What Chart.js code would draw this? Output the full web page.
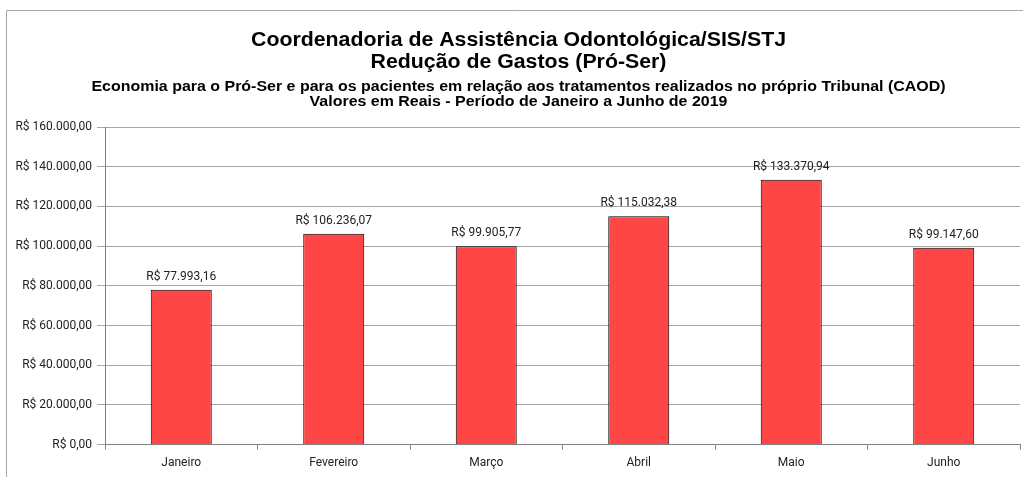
<!DOCTYPE html>
<html>
<head>
<meta charset="utf-8">
<script src="https://cdn.jsdelivr.net/npm/chart.js@4.4.1/dist/chart.umd.min.js"></script>
<style>
  html, body { margin: 0; padding: 0; background: #fff; }
  #wrap { position: relative; width: 1023px; height: 477px; }
</style>
</head>
<body>
<div id="wrap"><canvas id="chart" width="1023" height="477"></canvas></div>
<script>
const months = ['Janeiro', 'Fevereiro', 'Março', 'Abril', 'Maio', 'Junho'];
const economia = [77993.16, 106236.07, 99905.77, 115032.38, 133370.94, 99147.60];
const titleLines = ['Coordenadoria de Assistência Odontológica/SIS/STJ', 'Redução de Gastos (Pró-Ser)'];
const subtitleLines = ['Economia para o Pró-Ser e para os pacientes em relação aos tratamentos realizados no próprio Tribunal (CAOD)',
  'Valores em Reais - Período de Janeiro a Junho de 2019'];

function reais(v) {
  const parts = v.toFixed(2).split('.');
  const int = parts[0].replace(/\B(?=(\d{3})+(?!\d))/g, '.');
  return 'R$ ' + int + ',' + parts[1];
}

// text stretched horizontally, like the wide bold heading of the original
function wideText(ctx, text, x, y, sx) {
  ctx.save();
  ctx.translate(x, y);
  ctx.scale(sx, 1);
  ctx.fillText(text, 0, 0);
  ctx.restore();
}

// frame (left/top edges) + the four heading lines
const headerPlugin = {
  id: 'header',
  beforeDraw(chart) {
    const ctx = chart.ctx;
    ctx.save();
    ctx.strokeStyle = '#a6a6a6';
    ctx.lineWidth = 1;
    ctx.beginPath();
    ctx.moveTo(6.5, chart.height);
    ctx.lineTo(6.5, 10.5);
    ctx.lineTo(chart.width, 10.5);
    ctx.stroke();

    const cx = 518.5;
    ctx.fillStyle = '#000';
    ctx.textAlign = 'center';
    ctx.textBaseline = 'alphabetic';
    ctx.font = 'bold 20px "Liberation Sans"';
    wideText(ctx, titleLines[0], cx, 46, 1.065);
    wideText(ctx, titleLines[1], cx, 68, 1.065);
    ctx.font = 'bold 14px "Liberation Sans"';
    wideText(ctx, subtitleLines[0], cx, 91, 1.14);
    wideText(ctx, subtitleLines[1], cx, 106, 1.14);
    ctx.restore();
  }
};

// value labels above the bars
const valueLabels = {
  id: 'valueLabels',
  afterDatasetsDraw(chart) {
    const ctx = chart.ctx;
    const meta = chart.getDatasetMeta(0);
    ctx.save();
    ctx.font = '12px Roboto';
    ctx.fillStyle = '#222';
    ctx.textAlign = 'center';
    ctx.textBaseline = 'alphabetic';
    meta.data.forEach((bar, i) => {
      ctx.fillText(reais(economia[i]), bar.x, bar.y - 10);
    });
    ctx.restore();
  }
};

new Chart(document.getElementById('chart').getContext('2d'), {
  type: 'bar',
  data: {
    labels: months,
    datasets: [{
      data: economia,
      backgroundColor: '#ff4646',
      borderColor: '#000',
      borderWidth: 1,
      categoryPercentage: 0.4,
      barPercentage: 1
    }]
  },
  options: {
    responsive: false,
    animation: false,
    layout: { padding: { top: 127, right: 3, bottom: 1, left: 0 } },
    plugins: {
      legend: { display: false },
      tooltip: { enabled: false },
      title: { display: false }
    },
    scales: {
      x: {
        grid: { display: true, drawOnChartArea: false, offset: true, tickLength: 5, color: '#808080' },
        border: { color: '#808080' },
        ticks: { color: '#222', padding: 6, font: { family: 'Roboto', size: 12 } }
      },
      y: {
        min: 0,
        max: 160000,
        afterFit(scale) { scale.width = 105; },
        grid: { color: '#a6a6a6', tickLength: 8 },
        border: { color: '#808080' },
        ticks: {
          stepSize: 20000,
          color: '#222',
          padding: 5,
          font: { family: 'Roboto', size: 12 },
          callback: v => reais(v)
        }
      }
    }
  },
  plugins: [headerPlugin, valueLabels]
});
</script>
</body>
</html>
